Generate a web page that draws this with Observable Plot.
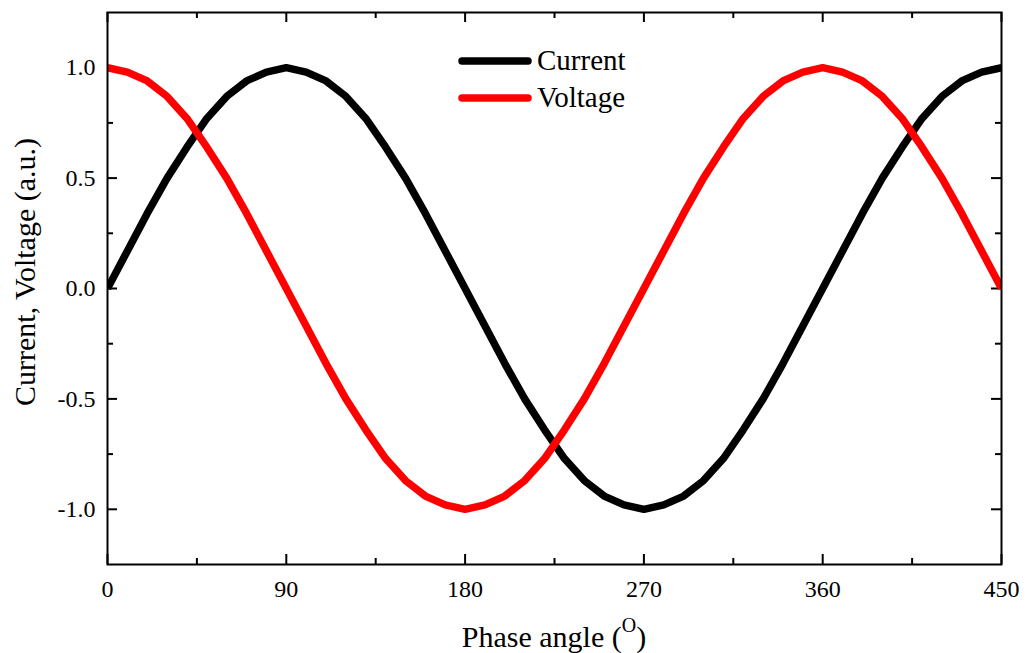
<!DOCTYPE html>
<html><head><meta charset="utf-8">
<script src="https://cdn.jsdelivr.net/npm/d3@7"></script>
<script src="https://cdn.jsdelivr.net/npm/@observablehq/plot@0.6"></script>
<style>
body{margin:0;background:#fff;}
#wrap{position:relative;width:1028px;height:653px;}
</style></head>
<body><div id="wrap"></div>
<script>
const phase = [0,10,20,30,40,50,60,70,80,90,100,110,120,130,140,150,160,170,180,190,200,210,220,230,240,250,260,270,280,290,300,310,320,330,340,350,360,370,380,390,400,410,420,430,440,450];
const current = [0,0.17,0.34,0.5,0.64,0.77,0.87,0.94,0.98,1.0,0.98,0.94,0.87,0.77,0.64,0.5,0.34,0.17,0,-0.17,-0.34,-0.5,-0.64,-0.77,-0.87,-0.94,-0.98,-1.0,-0.98,-0.94,-0.87,-0.77,-0.64,-0.5,-0.34,-0.17,0,0.17,0.34,0.5,0.64,0.77,0.87,0.94,0.98,1.0];
const voltage = [1.0,0.98,0.94,0.87,0.77,0.64,0.5,0.34,0.17,0,-0.17,-0.34,-0.5,-0.64,-0.77,-0.87,-0.94,-0.98,-1.0,-0.98,-0.94,-0.87,-0.77,-0.64,-0.5,-0.34,-0.17,0,0.17,0.34,0.5,0.64,0.77,0.87,0.94,0.98,1.0,0.98,0.94,0.87,0.77,0.64,0.5,0.34,0.17,0];
const seriesNames = ["Current", "Voltage"];
const seriesColors = ["#000000", "#ff0000"];
const xTicks = [0, 90, 180, 270, 360, 450];
const xMinor = [45, 135, 225, 315, 405];
const yTicks = [-1.0, -0.5, 0.0, 0.5, 1.0];
const yMinor = [-0.75, -0.25, 0.25, 0.75];
const xLabel = "Phase angle (";
const xLabelSup = "O";
const yLabel = "Current, Voltage (a.u.)";

const FONT = '"Liberation Serif", "Times New Roman", serif';
const W = 1028, H = 653, mL = 107, mR = 27, mT = 12, mB = 89;
const pw = W - mL - mR, ph = H - mT - mB;
const MAJ = 10, MIN = 6;

const rows = [
  ...phase.map((p, i) => ({phase: p, value: current[i], s: seriesNames[0]})),
  ...phase.map((p, i) => ({phase: p, value: voltage[i], s: seriesNames[1]}))
];

const chart = Plot.plot({
  width: W, height: H,
  marginLeft: mL, marginRight: mR, marginTop: mT, marginBottom: mB,
  style: {fontFamily: FONT, fontSize: "24px", color: "#000", background: "#fff"},
  x: {domain: [0, 450]},
  y: {domain: [-1.25, 1.25]},
  color: {domain: seriesNames, range: seriesColors},
  marks: [
    Plot.axisX(xTicks, {anchor: "bottom", tickSize: 0, tickPadding: 15, fontSize: 24, label: null, tickFormat: d => String(d)}),
    Plot.axisY(yTicks, {anchor: "left", tickSize: 0, tickPadding: 12, fontSize: 24, label: null, tickFormat: d => d.toFixed(1)}),
    // inward ticks, bottom & top
    Plot.tickX(xTicks, {x: d => d, insetTop: ph - MAJ, stroke: "#000", strokeWidth: 2}),
    Plot.tickX(xMinor, {x: d => d, insetTop: ph - MIN, stroke: "#000", strokeWidth: 2}),
    Plot.tickX(xTicks, {x: d => d, insetBottom: ph - MAJ, stroke: "#000", strokeWidth: 2}),
    Plot.tickX(xMinor, {x: d => d, insetBottom: ph - MIN, stroke: "#000", strokeWidth: 2}),
    // inward ticks, left & right
    Plot.tickY(yTicks, {y: d => d, insetRight: pw - MAJ, stroke: "#000", strokeWidth: 2}),
    Plot.tickY(yMinor, {y: d => d, insetRight: pw - MIN, stroke: "#000", strokeWidth: 2}),
    Plot.tickY(yTicks, {y: d => d, insetLeft: pw - MAJ, stroke: "#000", strokeWidth: 2}),
    Plot.tickY(yMinor, {y: d => d, insetLeft: pw - MIN, stroke: "#000", strokeWidth: 2}),
    Plot.line(rows, {x: "phase", y: "value", z: "s", stroke: "s", strokeWidth: 7.5, strokeLinecap: "butt", strokeLinejoin: "round", clip: true}),
    Plot.frame({stroke: "#000", strokeWidth: 2})
  ]
});

const svg = d3.select(chart);
// axis titles
svg.append("text")
  .attr("transform", `translate(35,272) rotate(-90)`)
  .attr("text-anchor", "middle")
  .attr("font-family", FONT).attr("font-size", 30).attr("fill", "#000")
  .text(yLabel);
const xl = svg.append("text")
  .attr("x", mL + pw / 2).attr("y", 647)
  .attr("text-anchor", "middle")
  .attr("font-family", FONT).attr("font-size", 30).attr("fill", "#000");
xl.append("tspan").text(xLabel);
xl.append("tspan").attr("font-size", 20).attr("dy", -15).text(xLabelSup);
xl.append("tspan").attr("dy", 15).text(")");

// legend
const leg = svg.append("g");
seriesNames.forEach((name, i) => {
  const y = 61 + i * 37;
  leg.append("line").attr("x1", 462).attr("x2", 528).attr("y1", y).attr("y2", y)
    .attr("stroke", seriesColors[i]).attr("stroke-width", 7.5).attr("stroke-linecap", "round");
  leg.append("text").attr("x", 537).attr("y", y + 9)
    .attr("text-anchor", "start")
    .attr("font-family", FONT).attr("font-size", 29).attr("fill", "#000").text(name);
});

document.getElementById("wrap").appendChild(chart);
</script>
</body></html>
